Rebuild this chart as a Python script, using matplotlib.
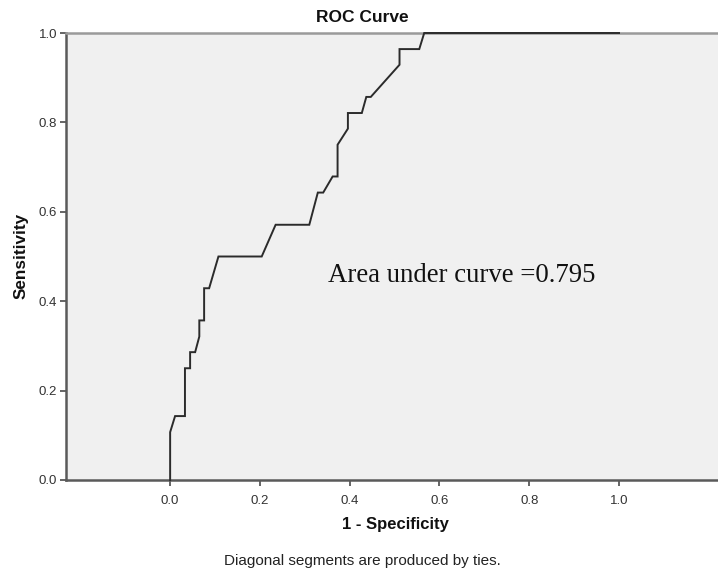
import matplotlib
matplotlib.use("Agg")
import matplotlib.pyplot as plt

# ROC curve coordinates (1 - specificity, sensitivity)
fpr = [0.0, 0.0, 0.011, 0.033, 0.033, 0.0445, 0.0445, 0.0557, 0.065, 0.065,
       0.0757, 0.0757, 0.0869, 0.1076, 0.204, 0.235, 0.310, 0.329, 0.341,
       0.362, 0.373, 0.373, 0.396, 0.396, 0.427, 0.437, 0.447, 0.511, 0.511,
       0.555, 0.566, 1.0]
tpr = [0.0, 0.107, 0.143, 0.143, 0.250, 0.250, 0.286, 0.286, 0.321, 0.357,
       0.357, 0.429, 0.429, 0.500, 0.500, 0.571, 0.571, 0.643, 0.643, 0.679,
       0.679, 0.750, 0.786, 0.821, 0.821, 0.857, 0.857, 0.929, 0.964, 0.964,
       1.0, 1.0]
auc_value = 0.795
tick_values = [0.0, 0.2, 0.4, 0.6, 0.8, 1.0]
tick_labels = ["0.0", "0.2", "0.4", "0.6", "0.8", "1.0"]

W, H = 718, 576
fig = plt.figure(figsize=(W / 100, H / 100), dpi=100)
fig.patch.set_facecolor("white")

left, right, top, bottom = 66, 718, 33, 480
ax = fig.add_axes([left / W, 1 - bottom / H, (right - left) / W, (bottom - top) / H])
ax.set_facecolor("#f0f0f0")

ax.plot(fpr, tpr, color="#2b2b2b", lw=1.4, solid_joinstyle="miter", zorder=3,
        clip_on=False)

ax.set_xlim(-0.232, 1.2205)
ax.set_ylim(0.0, 1.0)

for side in ["left", "bottom"]:
    ax.spines[side].set_color("#5a5a5a")
    ax.spines[side].set_linewidth(1.8)
ax.spines["top"].set_color("#9a9a9a")
ax.spines["top"].set_linewidth(1.8)
ax.spines["right"].set_visible(False)

sans = ["Liberation Sans", "DejaVu Sans"]
ax.set_xticks(tick_values)
ax.set_xticklabels(tick_labels, family=sans, fontsize=9.5, color="#333333")
ax.set_yticks(tick_values)
ax.set_yticklabels(tick_labels, family=sans, fontsize=9.5, color="#333333")
ax.tick_params(axis="both", direction="out", length=4.5, width=1.2,
               color="#4a4a4a", pad=2)
ax.tick_params(axis="x", pad=6)

ax.text(0.352, 0.457, "Area under curve =%.3f" % auc_value,
        family=["Liberation Serif", "DejaVu Serif"], fontsize=19.3,
        color="#111111", ha="left", va="center")

fig.text(362 / W, 1 - 17 / H, "ROC Curve", family=sans, fontsize=12.5,
         fontweight="bold", ha="center", va="center", color="#111111")
fig.text(395 / W, 1 - 525 / H, "1 - Specificity", family=sans, fontsize=12,
         fontweight="bold", ha="center", va="center", color="#111111")
fig.text(21 / W, 1 - 256 / H, "Sensitivity", family=sans, fontsize=12.3,
         fontweight="bold", ha="center", va="center", rotation=90,
         color="#111111")
fig.text(362 / W, 1 - 561 / H, "Diagonal segments are produced by ties.",
         family=sans, fontsize=11, ha="center", va="center", color="#222222")

fig.savefig("out.png", dpi=100, facecolor="white")
